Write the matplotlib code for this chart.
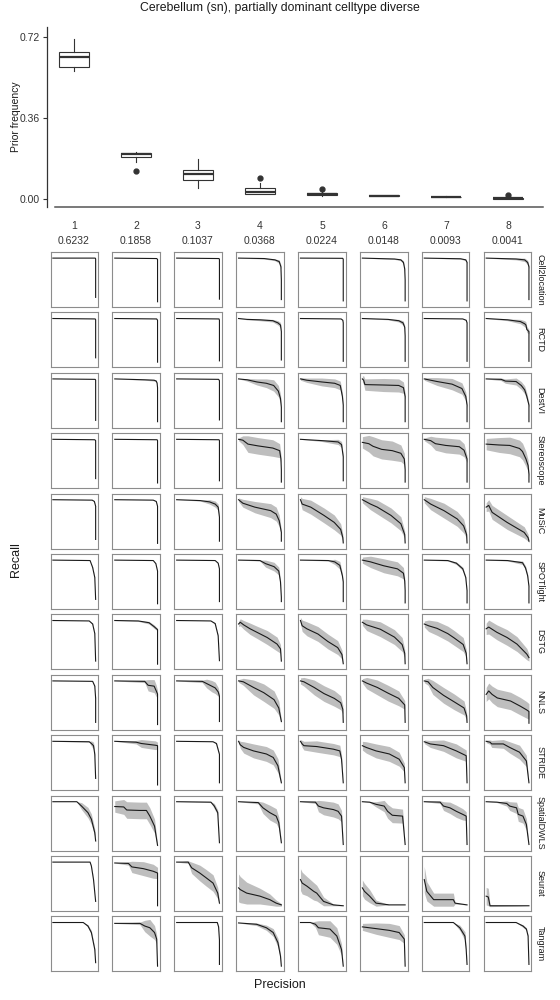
import matplotlib
matplotlib.use("Agg")
import matplotlib.pyplot as plt
import numpy as np

plt.rcParams['font.family'] = ['Liberation Sans', 'DejaVu Sans']

# ---- top panel: prior frequency boxplots ----
positions = [1, 2, 3, 4, 5, 6, 7, 8]
prior_means = [0.6232, 0.1858, 0.1037, 0.0368, 0.0224, 0.0148, 0.0093, 0.0041]
box_lo = [0.568, 0.166, 0.047, 0.020, 0.015, 0.012, 0.007, 0.001]
box_q1 = [0.587, 0.185, 0.084, 0.022, 0.018, 0.013, 0.008, 0.002]
box_med = [0.631, 0.198, 0.111, 0.030, 0.022, 0.015, 0.010, 0.004]
box_q3 = [0.653, 0.205, 0.129, 0.047, 0.028, 0.018, 0.011, 0.006]
box_hi = [0.708, 0.207, 0.176, 0.072, 0.030, 0.019, 0.012, 0.007]
box_fliers = [[], [0.124], [], [0.094], [0.046], [], [], [0.016]]

# ---- grid: precision/recall curves, knots are (x, y, ribbon half-width) ----
methods = ['Cell2location', 'RCTD', 'DestVI', 'Stereoscope', 'MuSiC', 'SPOTlight',
           'DSTG', 'NNLS', 'STRIDE', 'SpatialDWLS', 'Seurat', 'Tangram']

cell2location = [
    [(0,1,0),(0.99,1,0),(1,0.98,0),(1,0.1,0)],
    [(0,1,0),(0.98,0.99,0),(1,0.97,0),(1,0.0,0)],
    [(0,1,0),(0.99,0.99,0),(1,0.97,0),(1,0.06,0)],
    [(0,1,0),(0.6,0.99,0.01),(0.85,0.96,0.02),(0.95,0.92,0.04),(0.99,0.8,0.05),(1,0.5,0.03),(1,0.05,0)],
    [(0,1,0),(0.99,0.995,0),(1,0.97,0),(1,0.02,0)],
    [(0,1,0),(0.75,0.98,0.01),(0.9,0.96,0.02),(0.96,0.9,0.04),(0.99,0.75,0.04),(1,0.5,0.02),(1,0.02,0)],
    [(0,1,0),(0.85,0.985,0.01),(0.97,0.96,0.02),(1,0.9,0.02),(1,0.02,0)],
    [(0,1,0),(0.7,0.98,0.02),(0.9,0.96,0.04),(0.97,0.9,0.05),(1,0.8,0.04),(1,0.05,0)],
]
rctd = [
    [(0,1,0),(0.99,0.99,0),(1,0.97,0),(1,0.1,0)],
    [(0,1,0),(0.98,0.99,0),(1,0.96,0),(1,0.0,0)],
    [(0,1,0),(0.99,0.99,0),(1,0.96,0),(1,0.03,0)],
    [(0,1,0),(0.2,0.98,0.01),(0.5,0.97,0.02),(0.8,0.95,0.03),(0.92,0.9,0.05),(0.98,0.85,0.06),(1,0.7,0.04),(1,0.05,0)],
    [(0,1,0),(0.95,0.99,0),(0.99,0.96,0.01),(1,0.9,0.01),(1,0.02,0)],
    [(0,1,0),(0.6,0.98,0.01),(0.85,0.95,0.03),(0.95,0.9,0.05),(0.99,0.8,0.05),(1,0.6,0.03),(1,0.02,0)],
    [(0,1,0),(0.9,0.99,0),(0.98,0.96,0.01),(1,0.9,0.01),(1,0.02,0)],
    [(0,1,0),(0.5,0.97,0.02),(0.8,0.93,0.05),(0.9,0.88,0.07),(0.93,0.85,0.07),(0.95,0.75,0.07),(1,0.7,0.05),(1,0.02,0)],
]
destvi = [
    [(0,1,0),(0.99,0.99,0),(1,0.97,0),(1,0.05,0)],
    [(0,1,0),(0.7,0.98,0.01),(0.92,0.97,0.02),(0.97,0.95,0.02),(0.99,0.9,0.02),(1,0.8,0.01),(1,0.02,0)],
    [(0,1,0),(0.98,0.99,0),(1,0.96,0),(1,0.06,0)],
    [(0,1,0),(0.2,0.98,0.03),(0.43,0.93,0.07),(0.65,0.9,0.1),(0.82,0.85,0.13),(0.93,0.72,0.13),(0.98,0.55,0.1),(1,0.35,0.06),(1,0.02,0)],
    [(0,1,0.03),(0.15,0.97,0.05),(0.5,0.93,0.09),(0.8,0.9,0.1),(0.93,0.85,0.1),(0.98,0.6,0.09),(1,0.4,0.05),(1,0.02,0)],
    [(0,1,0.07),(0.03,0.97,0.1),(0.06,0.87,0.13),(0.5,0.86,0.15),(0.85,0.85,0.15),(0.96,0.8,0.13),(1,0.6,0.08),(1,0.02,0)],
    [(0,1,0.03),(0.3,0.94,0.09),(0.65,0.88,0.13),(0.88,0.78,0.13),(0.97,0.6,0.1),(1,0.4,0.06),(1,0.02,0)],
    [(0,1,0),(0.35,0.99,0.03),(0.45,0.95,0.05),(0.7,0.94,0.08),(0.82,0.85,0.09),(0.9,0.75,0.09),(0.95,0.6,0.08),(1,0.4,0.05),(1,0.02,0)],
]
stereoscope = [
    [(0,1,0),(0.98,0.99,0),(1,0.97,0),(1,0.1,0)],
    [(0,1,0),(0.99,0.99,0),(1,0.97,0),(1,0.0,0)],
    [(0,1,0),(0.99,0.99,0),(1,0.97,0),(1,0.05,0)],
    [(0,1,0.03),(0.1,0.98,0.1),(0.22,0.89,0.19),(0.45,0.85,0.19),(0.8,0.8,0.19),(0.96,0.74,0.16),(0.99,0.55,0.1),(1,0.3,0.05),(1,0.02,0)],
    [(0,1,0),(0.5,0.97,0.02),(0.88,0.94,0.06),(0.96,0.88,0.07),(1,0.6,0.05),(1,0.05,0)],
    [(0,0.93,0.13),(0.15,0.9,0.19),(0.25,0.84,0.22),(0.45,0.77,0.22),(0.7,0.74,0.22),(0.9,0.68,0.19),(0.98,0.55,0.13),(1,0.3,0.06),(1,0.02,0)],
    [(0,1,0.03),(0.15,0.97,0.1),(0.26,0.9,0.15),(0.5,0.86,0.17),(0.82,0.83,0.17),(0.93,0.75,0.15),(1,0.55,0.08),(1,0.02,0)],
    [(0,0.89,0.13),(0.3,0.87,0.17),(0.55,0.86,0.19),(0.78,0.79,0.19),(0.85,0.72,0.19),(0.93,0.55,0.17),(0.98,0.4,0.13),(1,0.2,0.06),(1,0.02,0)],
]
music = [
    [(0,1,0),(0.92,0.99,0),(0.97,0.96,0.01),(1,0.85,0.01),(1,0.09,0)],
    [(0,1,0),(0.9,0.99,0),(0.97,0.96,0.01),(1,0.85,0.01),(1,0.0,0)],
    [(0,1,0),(0.55,0.98,0.01),(0.77,0.95,0.05),(0.9,0.9,0.07),(0.97,0.83,0.07),(1,0.6,0.05),(1,0.05,0)],
    [(0,1,0.04),(0.1,0.92,0.09),(0.38,0.83,0.13),(0.75,0.75,0.16),(0.88,0.67,0.16),(0.95,0.52,0.13),(1,0.25,0.06),(1,0.05,0)],
    [(0,1,0.07),(0.04,0.9,0.13),(0.24,0.83,0.16),(0.55,0.64,0.17),(0.79,0.48,0.17),(0.94,0.32,0.13),(0.99,0.13,0.08),(1,0.01,0)],
    [(0,1,0.07),(0.19,0.9,0.13),(0.35,0.83,0.16),(0.67,0.64,0.17),(0.9,0.45,0.16),(0.99,0.2,0.08),(1,0.01,0)],
    [(0,1,0.07),(0.15,0.9,0.13),(0.46,0.75,0.17),(0.77,0.56,0.17),(0.92,0.4,0.16),(0.99,0.2,0.08),(1,0.01,0)],
    [(0,0.83,0.1),(0.06,0.87,0.13),(0.14,0.71,0.16),(0.49,0.48,0.16),(0.89,0.25,0.13),(0.98,0.13,0.08),(1,0.05,0.04)],
]
spotlight = [
    [(0,1,0),(0.87,0.99,0),(0.93,0.83,0.02),(0.98,0.6,0.02),(1,0.1,0)],
    [(0,1,0),(0.9,0.99,0),(0.96,0.92,0.01),(1,0.75,0.01),(1,0.0,0)],
    [(0,1,0),(0.9,0.99,0),(0.97,0.93,0.01),(1,0.8,0.01),(1,0.05,0)],
    [(0,1,0),(0.5,0.99,0.01),(0.63,0.92,0.08),(0.83,0.85,0.1),(0.94,0.75,0.09),(0.98,0.5,0.06),(1,0.15,0.03),(1,0.05,0)],
    [(0,1,0),(0.65,0.99,0.01),(0.8,0.96,0.06),(0.92,0.88,0.09),(0.98,0.64,0.06),(1,0.5,0.04),(1,0.05,0)],
    [(0,1,0.07),(0.19,0.96,0.13),(0.5,0.87,0.16),(0.82,0.8,0.16),(0.96,0.7,0.13),(0.99,0.52,0.08),(1,0.3,0.04),(1,0.02,0)],
    [(0,1,0),(0.55,0.99,0.01),(0.75,0.93,0.03),(0.9,0.8,0.04),(0.97,0.6,0.03),(1,0.3,0.02),(1,0.02,0)],
    [(0,1,0),(0.5,0.99,0.01),(0.85,0.94,0.04),(0.92,0.82,0.05),(0.97,0.64,0.04),(1,0.4,0.02),(1,0.02,0)],
]
dstg = [
    [(0,1,0),(0.85,0.99,0),(0.93,0.92,0.02),(0.98,0.7,0.02),(1,0.07,0)],
    [(0,1,0),(0.55,0.99,0.01),(0.8,0.95,0.03),(0.92,0.86,0.04),(1,0.79,0.03),(1,0.0,0)],
    [(0,1,0),(0.8,0.99,0),(0.9,0.93,0.02),(0.97,0.65,0.02),(1,0.08,0)],
    [(0,0.92,0.06),(0.04,0.96,0.08),(0.12,0.9,0.1),(0.27,0.81,0.13),(0.43,0.73,0.14),(0.67,0.61,0.16),(0.9,0.46,0.16),(0.98,0.35,0.1),(1,0.07,0.03)],
    [(0,1,0.07),(0.04,0.88,0.13),(0.15,0.81,0.16),(0.41,0.69,0.17),(0.64,0.52,0.17),(0.87,0.38,0.16),(0.97,0.22,0.1),(1,0.01,0)],
    [(0,0.96,0.07),(0.1,0.9,0.13),(0.42,0.8,0.17),(0.75,0.62,0.17),(0.93,0.45,0.16),(0.99,0.25,0.09),(1,0.01,0)],
    [(0,0.92,0.07),(0.1,0.88,0.13),(0.3,0.82,0.16),(0.55,0.7,0.17),(0.7,0.6,0.17),(0.91,0.45,0.16),(0.98,0.25,0.09),(1,0.01,0)],
    [(0,0.81,0.13),(0.06,0.85,0.16),(0.25,0.73,0.17),(0.49,0.61,0.18),(0.72,0.46,0.17),(0.95,0.23,0.13),(1,0.15,0.08)],
]
nnls = [
    [(0,1,0),(0.93,0.99,0),(0.98,0.88,0.02),(1,0.6,0.02),(1,0.05,0)],
    [(0,1,0),(0.7,0.99,0.03),(0.78,0.9,0.13),(0.92,0.88,0.15),(0.97,0.77,0.13),(1,0.7,0.08),(1,0.0,0)],
    [(0,1,0),(0.6,0.99,0.03),(0.7,0.94,0.1),(0.82,0.88,0.13),(0.9,0.84,0.13),(0.97,0.75,0.1),(1,0.65,0.06),(1,0.07,0)],
    [(0,1,0.03),(0.11,0.98,0.08),(0.35,0.85,0.17),(0.59,0.73,0.2),(0.83,0.57,0.2),(0.94,0.38,0.16),(1,0.07,0.04)],
    [(0,1,0.07),(0.08,0.98,0.1),(0.32,0.85,0.17),(0.55,0.71,0.18),(0.79,0.6,0.18),(0.94,0.5,0.16),(0.99,0.35,0.1),(1,0.05,0)],
    [(0,1,0.05),(0.1,0.95,0.13),(0.35,0.85,0.17),(0.6,0.72,0.18),(0.85,0.6,0.17),(0.99,0.45,0.1),(1,0.05,0)],
    [(0,1,0.04),(0.09,0.98,0.08),(0.2,0.85,0.16),(0.45,0.67,0.18),(0.7,0.52,0.18),(0.93,0.38,0.16),(0.99,0.2,0.08),(1,0.05,0)],
    [(0,0.69,0.16),(0.06,0.77,0.18),(0.14,0.69,0.19),(0.26,0.61,0.2),(0.57,0.54,0.2),(0.8,0.42,0.2),(0.94,0.34,0.19),(1,0.3,0.18),(1,0.03,0)],
]
stride = [
    [(0,1,0),(0.85,0.99,0.01),(0.9,0.95,0.06),(0.95,0.9,0.08),(0.98,0.7,0.06),(1,0.15,0.01)],
    [(0,1,0),(0.5,0.98,0.04),(0.62,0.95,0.09),(0.95,0.91,0.1),(1,0.9,0.08),(1,0.0,0)],
    [(0,1,0),(0.85,0.99,0),(0.93,0.95,0.02),(1,0.7,0.02),(1,0.05,0)],
    [(0,1,0.03),(0.04,0.92,0.08),(0.12,0.86,0.13),(0.35,0.78,0.16),(0.65,0.71,0.17),(0.81,0.63,0.17),(0.92,0.44,0.16),(1,0.05,0.03)],
    [(0,1,0.04),(0.04,0.94,0.08),(0.08,0.9,0.1),(0.38,0.88,0.13),(0.77,0.82,0.13),(0.92,0.78,0.13),(0.96,0.59,0.1),(1,0.05,0)],
    [(0,0.9,0.1),(0.09,0.86,0.13),(0.32,0.78,0.16),(0.63,0.71,0.17),(0.86,0.59,0.16),(0.98,0.4,0.1),(1,0.05,0)],
    [(0,0.99,0.04),(0.14,0.94,0.08),(0.45,0.9,0.13),(0.75,0.78,0.16),(0.98,0.67,0.13),(1,0.05,0)],
    [(0,1,0.03),(0.09,0.98,0.05),(0.13,0.94,0.08),(0.4,0.94,0.1),(0.55,0.86,0.13),(0.78,0.75,0.16),(0.94,0.55,0.13),(1,0.05,0)],
]
spatialdwls = [
    [(0,1,0),(0.56,1,0),(0.67,0.9,0.08),(0.82,0.75,0.12),(0.9,0.6,0.12),(0.98,0.29,0.08),(1,0.1,0.03)],
    [(0,0.89,0.13),(0.21,0.88,0.17),(0.28,0.81,0.19),(0.59,0.8,0.19),(0.74,0.8,0.19),(0.82,0.67,0.19),(0.93,0.44,0.16),(1,0.0,0.03)],
    [(0,1,0),(0.8,0.99,0.01),(0.88,0.9,0.06),(0.96,0.75,0.06),(1,0.06,0)],
    [(0,1,0),(0.46,0.98,0.03),(0.57,0.86,0.13),(0.73,0.75,0.17),(0.88,0.67,0.17),(0.94,0.52,0.13),(1,0.06,0.03)],
    [(0,1,0),(0.35,0.99,0.03),(0.42,0.9,0.13),(0.54,0.86,0.16),(0.77,0.82,0.17),(0.88,0.78,0.17),(0.96,0.67,0.13),(1,0.02,0)],
    [(0,1,0),(0.17,0.99,0.01),(0.32,0.94,0.06),(0.51,0.9,0.13),(0.59,0.78,0.16),(0.7,0.69,0.17),(0.94,0.67,0.16),(1,0.02,0)],
    [(0,1,0),(0.37,0.99,0.03),(0.45,0.9,0.1),(0.6,0.86,0.13),(0.75,0.78,0.14),(0.9,0.71,0.13),(0.98,0.67,0.1),(1,0.02,0)],
    [(0,1,0),(0.25,0.99,0.01),(0.48,0.96,0.06),(0.55,0.9,0.1),(0.71,0.86,0.13),(0.75,0.71,0.16),(0.86,0.67,0.16),(0.94,0.48,0.13),(1,0.02,0)],
]
seurat = [
    [(0,1,0),(0.87,1,0),(0.9,0.91,0.02),(0.95,0.6,0.02),(1,0.1,0)],
    [(0,0.98,0),(0.32,0.97,0.04),(0.4,0.89,0.13),(0.67,0.85,0.16),(0.9,0.79,0.16),(1,0.75,0.13),(1,0.0,0)],
    [(0,1,0),(0.27,1,0.03),(0.35,0.87,0.13),(0.54,0.75,0.18),(0.69,0.64,0.19),(0.85,0.52,0.19),(0.96,0.29,0.13),(1,0.06,0.03)],
    [(0,0.41,0.32),(0.04,0.37,0.3),(0.19,0.29,0.25),(0.5,0.22,0.18),(0.73,0.14,0.13),(0.88,0.06,0.07),(1,0.02,0.03)],
    [(0,0.6,0.25),(0.04,0.52,0.25),(0.15,0.45,0.22),(0.31,0.33,0.2),(0.38,0.29,0.18),(0.54,0.1,0.1),(0.77,0.02,0.02),(1,0.0,0)],
    [(0,0.41,0.18),(0.05,0.33,0.18),(0.17,0.22,0.15),(0.32,0.06,0.07),(0.63,0.02,0),(1,0.02,0)],
    [(0,0.6,0.3),(0.06,0.33,0.22),(0.22,0.14,0.15),(0.68,0.14,0.15),(0.72,0.06,0.02),(1,0.02,0)],
    [(0,0.22,0.2),(0.05,0.2,0.2),(0.09,0.0,0.02),(1,0.0,0)],
]
tangram = [
    [(0,1,0),(0.71,1,0),(0.82,0.92,0.03),(0.9,0.77,0.05),(0.98,0.38,0.04),(1,0.08,0)],
    [(0,0.98,0),(0.59,0.98,0.03),(0.7,0.92,0.13),(0.82,0.88,0.19),(0.93,0.77,0.16),(0.98,0.62,0.1),(1,0.0,0)],
    [(0,1,0),(0.95,1,0),(0.98,0.9,0.02),(1,0.6,0.02),(1,0.04,0)],
    [(0,0.99,0),(0.42,0.96,0.03),(0.65,0.88,0.06),(0.81,0.77,0.09),(0.92,0.54,0.1),(0.98,0.23,0.06),(1,0.0,0)],
    [(0,1,0),(0.23,1,0),(0.35,0.96,0.07),(0.42,0.88,0.16),(0.69,0.85,0.19),(0.85,0.69,0.19),(0.96,0.38,0.13),(1,0.0,0)],
    [(0,0.9,0.08),(0.32,0.86,0.13),(0.63,0.82,0.16),(0.86,0.77,0.16),(0.98,0.62,0.1),(1,0.0,0)],
    [(0,1,0),(0.68,1,0),(0.83,0.88,0.06),(0.95,0.69,0.1),(0.98,0.38,0.06),(1,0.04,0)],
    [(0,1,0),(0.7,1,0),(0.86,0.92,0.03),(0.94,0.85,0.03),(0.98,0.69,0.03),(1,0.04,0)],
]
curves = [cell2location, rctd, destvi, stereoscope, music, spotlight,
          dstg, nnls, stride, spatialdwls, seurat, tangram]

W, H = 560, 1000
fig = plt.figure(figsize=(W / 100, H / 100), dpi=100)
dark = '#333333'

def fx(px):
    return px / W

def fy(py):
    return 1 - py / H

# top boxplot panel
ax = fig.add_axes([fx(47), fy(207), fx(543 - 47), 180 / H])
stats = []
for i in range(8):
    stats.append(dict(med=box_med[i], q1=box_q1[i], q3=box_q3[i],
                      whislo=box_lo[i], whishi=box_hi[i], fliers=box_fliers[i]))
ax.bxp(stats, positions=positions, widths=0.48, patch_artist=True,
       boxprops=dict(facecolor='white', edgecolor=dark, linewidth=0.8),
       medianprops=dict(color=dark, linewidth=1.6),
       whiskerprops=dict(color=dark, linewidth=0.8),
       capprops=dict(linewidth=0),
       flierprops=dict(marker='o', markersize=3.5, markerfacecolor=dark,
                       markeredgecolor=dark))
ax.set_xlim(0.565, 8.565)
ax.set_ylim(-0.0355, 0.763)
for s in ['top', 'right', 'bottom']:
    ax.spines[s].set_visible(False)
ax.spines['left'].set_color(dark)
ax.spines['left'].set_linewidth(0.9)
ax.plot([8 / 496, 1], [0, 0], transform=ax.transAxes, color='#555555',
        lw=1.1, clip_on=False)
ax.set_yticks([0, 0.36, 0.72])
ax.set_yticklabels(['0.00', '0.36', '0.72'])
ax.set_xticks(positions)
ax.set_xticklabels([f"{p}\n{m:.4f}" for p, m in zip(positions, prior_means)])
for lbl in ax.get_xticklabels():
    lbl.set_linespacing(1.6)
ax.tick_params(axis='x', length=0, pad=10, labelsize=7.5, labelcolor=dark)
ax.tick_params(axis='y', length=3, width=0.8, color=dark, labelsize=7.5,
               labelcolor=dark, pad=2)
fig.text(fx(16), fy(117), 'Prior frequency', rotation=90, ha='center',
         va='center', fontsize=7.5, color='#1a1a1a')
fig.text(fx(280), fy(8), 'Cerebellum (sn), partially dominant celltype diverse',
         ha='center', va='center', fontsize=8.8, color='#1a1a1a')

# grid of precision/recall panels
col_left0, col_step, pw = 50.5, 61.9, 47.5
row_top0, row_step, ph = 252, 60.4, 55
for r, name in enumerate(methods):
    top = row_top0 + row_step * r
    for c in range(8):
        left = col_left0 + col_step * c
        pax = fig.add_axes([fx(left), fy(top + ph), fx(pw), ph / H])
        knots = np.array(curves[r][c], dtype=float)
        x, y, w = knots[:, 0], knots[:, 1], knots[:, 2]
        pax.fill_between(x, y - w, y + w, color='#bebebe', lw=0)
        pax.plot(x, y, color='#1a1a1a', lw=0.8)
        pax.set_xlim(-0.055, 1.055)
        pax.set_ylim(-0.12, 1.14)
        pax.set_xticks([])
        pax.set_yticks([])
        for s in pax.spines.values():
            s.set_color('#8c8c8c')
            s.set_linewidth(0.8)
    fig.text(fx(540), fy(top + ph / 2), name, rotation=-90, ha='center',
             va='center', fontsize=6.5, color='#1a1a1a')

fig.text(fx(16), fy(560), 'Recall', rotation=90, ha='center', va='center',
         fontsize=9, color='#1a1a1a')
fig.text(fx(280), fy(985), 'Precision', ha='center', va='center',
         fontsize=9, color='#1a1a1a')

fig.savefig('out.png', dpi=100)
